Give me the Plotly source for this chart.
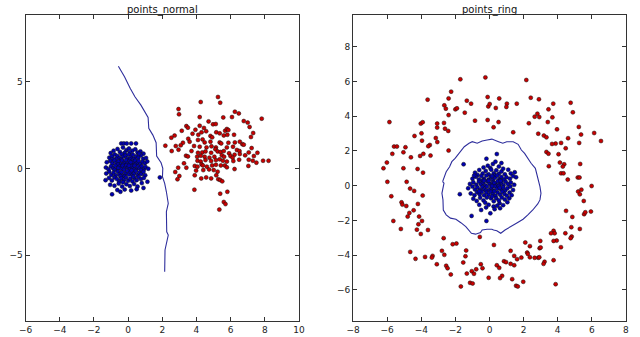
import plotly.graph_objects as go

W, H = 640, 337

# ---------------- points_normal ----------------
normal_blue_x = [-0.40,-0.25,-0.08,0.18,0.46,
 -0.62,-0.85,-0.30,-0.10,0.05,0.25,0.42,0.72,-0.48,0.55,-0.20,0.10,-1.02,0.90,
 -1.10,-0.95,-0.78,-0.62,-0.50,-0.38,-0.28,-0.15,-0.05,0.05,0.18,0.28,0.35,0.48,0.60,0.75,0.88,1.05,-0.70,-0.40,0.12,0.65,-0.88,
 -1.25,-1.05,-0.92,-0.80,-0.68,-0.55,-0.45,-0.35,-0.22,-0.12,-0.02,0.08,0.20,0.30,0.42,0.52,0.62,0.72,0.85,0.98,1.12,-0.60,0.15,-0.30,0.40,
 -1.30,-1.15,-1.00,-0.88,-0.75,-0.65,-0.52,-0.42,-0.32,-0.20,-0.10,0.00,0.10,0.18,0.28,0.38,0.48,0.58,0.68,0.80,0.92,1.02,1.18,-0.58,-0.25,0.05,0.35,-0.80,0.75,
 -1.28,-1.10,-0.98,-0.85,-0.72,-0.60,-0.50,-0.38,-0.28,-0.15,-0.05,0.05,0.15,0.25,0.35,0.45,0.55,0.65,0.78,0.90,1.00,-0.45,0.20,-0.20,
 -1.32,-1.12,-0.95,-0.80,-0.65,-0.52,-0.40,-0.25,-0.12,0.00,0.12,0.25,0.38,0.50,0.62,0.75,0.92,1.13,0.30,-0.30,
 -1.05,-0.80,-0.55,-0.35,-0.10,0.10,0.35,0.55,0.80,0.90,
 -0.94,-0.63,-0.20,0.18,0.50,-0.45,
 1.86]
normal_blue_y = [1.44,1.44,1.44,1.44,1.44,
 1.12,1.02,1.20,1.05,1.15,1.02,1.10,0.98,0.95,0.92,0.90,0.92,0.88,0.85,
 0.62,0.70,0.80,0.72,0.60,0.82,0.68,0.75,0.58,0.80,0.66,0.78,0.55,0.70,0.62,0.75,0.55,0.60,0.55,0.52,0.52,0.85,0.52,
 0.35,0.42,0.28,0.45,0.32,0.40,0.25,0.45,0.32,0.48,0.30,0.42,0.25,0.38,0.45,0.30,0.42,0.25,0.38,0.30,0.40,0.22,0.35,0.22,0.22,
 0.05,-0.05,0.12,0.00,0.15,-0.05,0.10,-0.02,0.15,0.02,0.18,0.05,-0.05,0.12,0.00,0.15,-0.05,0.10,0.00,0.12,-0.05,0.08,-0.02,0.02,-0.08,0.15,-0.08,-0.08,-0.10,
 -0.30,-0.20,-0.38,-0.25,-0.40,-0.18,-0.32,-0.22,-0.42,-0.28,-0.15,-0.35,-0.22,-0.40,-0.28,-0.15,-0.38,-0.25,-0.32,-0.20,-0.40,-0.45,-0.12,-0.45,
 -0.68,-0.55,-0.70,-0.52,-0.62,-0.75,-0.58,-0.68,-0.52,-0.72,-0.60,-0.75,-0.55,-0.68,-0.50,-0.62,-0.55,-0.77,-0.48,-0.80,
 -0.95,-1.00,-0.88,-1.05,-0.92,-1.02,-0.90,-1.05,-0.85,-1.13,
 -1.50,-1.25,-1.22,-1.28,-1.20,-1.35,
 -0.52]

normal_red_x = [5.26,4.25,5.39,2.95,2.98,6.25,6.48,4.19,5.57,6.08,7.82,6.77,7.00,4.97,5.13,4.71,4.19,3.41,3.50,4.44,
 3.94,4.57,7.11,7.32,3.14,2.72,2.53,3.77,4.11,4.30,5.16,5.36,5.68,5.78,5.87,5.60,5.81,6.20,7.19,4.82,
 4.92,4.09,4.36,3.52,3.60,3.21,2.18,2.79,3.08,4.48,4.82,5.36,5.45,5.87,6.25,6.54,6.69,6.77,3.86,4.19,
 4.59,4.88,5.14,5.78,6.14,6.37,6.52,7.23,2.55,2.95,3.71,4.09,4.34,4.53,4.86,5.11,5.24,5.41,5.60,5.91,
 6.23,6.54,6.85,7.06,7.36,7.57,3.39,3.50,4.04,4.25,4.48,4.76,5.05,5.49,5.62,5.99,6.12,6.50,7.06,7.30,
 7.51,7.90,8.22,3.27,4.06,4.25,4.53,4.86,5.14,5.36,5.55,5.78,6.16,3.90,4.06,4.30,4.38,4.61,4.92,5.14,
 5.43,5.66,5.78,6.23,7.04,2.93,3.41,2.76,3.98,4.40,4.74,5.01,5.24,3.90,4.28,4.57,4.86,5.16,3.00,2.89,
 5.28,5.39,5.51,3.88,5.81,5.39,5.60,5.70,5.34]
normal_red_y = [4.12,3.83,3.79,3.42,3.12,3.27,3.17,2.96,2.94,2.96,2.87,2.73,2.64,2.54,2.56,2.71,2.46,2.44,2.35,2.33,
 2.23,2.14,2.39,2.04,2.17,1.89,1.77,2.00,1.94,2.08,2.08,2.02,2.17,2.27,2.21,1.90,1.94,1.94,1.81,1.87,
 1.79,1.64,1.67,1.71,1.54,1.48,1.31,1.29,1.33,1.50,1.54,1.50,1.44,1.48,1.50,1.54,1.39,1.37,1.29,1.25,
 1.21,1.27,1.21,1.21,1.25,1.06,1.00,1.17,1.00,1.08,1.00,0.90,0.92,0.98,0.90,1.10,0.98,0.94,1.00,0.87,
 0.79,0.83,0.75,0.92,0.71,0.90,0.73,0.69,0.67,0.73,0.67,0.62,0.67,0.75,0.67,0.71,0.62,0.50,0.50,0.44,
 0.33,0.44,0.44,0.29,0.44,0.39,0.48,0.42,0.48,0.52,0.44,0.39,0.42,0.14,0.10,0.23,0.17,0.10,0.17,0.21,
 0.17,0.17,0.06,-0.04,0.14,0.04,0.04,-0.21,-0.13,-0.10,-0.06,-0.10,-0.19,-0.40,-0.58,-0.52,-0.58,-0.40,-0.44,-0.63,
 -0.63,-0.67,-0.75,-1.23,-1.35,-1.46,-1.94,-2.06,-2.38]

normal_line_x = [-0.57,-0.21,0.12,0.40,0.75,1.17,1.21,1.45,1.64,1.67,1.93,2.03,2.01,2.14,2.24,2.35,2.24,2.27,2.26,2.35,2.24,2.16,2.14]
normal_line_y = [5.89,5.29,4.62,4.13,3.65,2.94,2.31,1.92,1.48,0.71,0.32,0.00,-0.48,-0.87,-1.35,-2.02,-2.50,-3.08,-3.66,-3.85,-4.33,-4.71,-5.97]

# ---------------- points_ring ----------------
ring_blue_x = [-1.52,0.43,-0.18,-1.74,-0.18,-1.05,-0.49,1.48,1.56,1.16,0.05,0.59,0.24,
 -0.10,0.20,0.55,0.35,-0.35,0.70,0.05,
 -0.85,-0.60,-0.40,-0.22,-0.05,0.10,0.25,0.40,0.55,0.70,0.90,1.10,-0.70,0.32,0.80,1.25,
 -1.00,-0.80,-0.62,-0.48,-0.32,-0.18,-0.05,0.08,0.20,0.32,0.45,0.58,0.70,0.85,1.00,1.20,1.38,-0.40,0.15,0.62,-0.90,
 -1.15,-0.95,-0.78,-0.62,-0.50,-0.38,-0.25,-0.12,0.00,0.12,0.22,0.35,0.48,0.58,0.70,0.82,0.95,1.08,1.25,1.45,-0.05,0.28,0.42,-0.32,0.65,
 -1.25,-1.00,-0.85,-0.70,-0.55,-0.42,-0.30,-0.15,-0.02,0.10,0.22,0.32,0.45,0.55,0.68,0.80,0.92,1.05,1.22,1.38,0.15,-0.20,0.60,
 -1.10,-0.88,-0.72,-0.58,-0.45,-0.32,-0.18,-0.05,0.08,0.20,0.35,0.48,0.62,0.75,0.88,1.02,1.18,1.30,0.28,-0.60,
 -0.95,-0.75,-0.55,-0.35,-0.15,0.09,0.25,0.40,0.55,0.72,0.90,1.05,0.15,-0.25,
 -0.60,-0.20,0.30,0.45,0.62,0.80,-0.05]
ring_blue_y = [1.23,1.82,1.55,-0.49,-2.03,-1.74,-1.40,0.77,0.48,-0.73,-1.59,-1.01,-1.20,
 1.15,1.25,1.10,1.38,1.05,1.30,1.02,
 0.75,0.90,0.70,0.85,0.65,0.92,0.72,0.88,0.68,0.82,0.65,0.92,0.62,0.60,0.98,0.70,
 0.40,0.52,0.35,0.55,0.40,0.58,0.35,0.50,0.32,0.45,0.58,0.38,0.50,0.35,0.48,0.40,0.55,0.30,0.55,0.30,0.58,
 0.10,0.20,0.05,0.22,0.08,0.18,0.02,0.25,0.12,0.02,0.20,0.08,0.25,0.05,0.18,0.02,0.22,0.10,0.18,0.05,0.28,0.15,0.00,0.28,0.28,
 -0.15,-0.05,-0.22,-0.10,-0.25,-0.08,-0.20,-0.05,-0.25,-0.12,-0.28,-0.05,-0.18,-0.02,-0.22,-0.10,-0.28,-0.15,-0.05,-0.25,-0.02,-0.28,-0.12,
 -0.45,-0.55,-0.38,-0.50,-0.35,-0.55,-0.40,-0.52,-0.35,-0.48,-0.58,-0.40,-0.52,-0.35,-0.48,-0.58,-0.40,-0.55,-0.32,-0.32,
 -0.75,-0.88,-0.70,-0.85,-0.68,-0.73,-0.90,-0.72,-0.85,-0.68,-0.80,-0.95,-0.62,-0.98,
 -1.10,-1.25,-1.35,-1.15,-1.30,-1.12,-1.10]

ring_red_x = [-1.71,-0.24,-2.25,-3.63,-2.40,-1.33,-1.08,-0.11,-2.65,-2.56,-2.00,-1.91,-0.07,0.01,-2.40,-1.45,
 -5.87,-4.03,-3.92,-3.07,-2.67,-0.85,-0.11,-3.07,-2.61,-2.42,-4.40,-3.99,-3.15,-3.06,-3.96,-3.50,-3.59,
 -5.60,-5.43,-4.93,-2.40,-5.70,-5.05,-3.88,-4.07,-3.46,-4.61,-6.02,-6.22,-5.05,-4.22,-3.90,-5.99,-4.86,
 -4.66,-4.42,-5.76,-3.92,-5.16,-5.11,-4.88,-4.20,-4.45,-4.70,-4.80,-4.13,-5.64,-3.96,-4.17,-5.20,-4.26,
 -3.61,-4.03,-2.69,-2.16,-1.94,-4.65,-1.37,-2.79,-2.65,-3.34,-3.38,-4.34,-3.78,-1.41,-1.54,-3.09,-2.54,
 -2.46,-0.51,-0.41,-0.78,-1.04,-0.91,-1.33,-2.27,-0.05,-1.68,-1.14,-0.99,-0.57,
 2.16,0.57,2.42,2.90,1.02,0.99,1.60,0.37,4.76,3.74,3.46,4.89,2.81,2.65,2.92,3.69,2.31,3.42,0.53,0.24,
 1.39,3.96,5.24,2.86,3.19,3.34,5.37,6.14,6.54,4.61,4.20,3.88,3.67,5.26,4.47,3.34,3.46,4.05,4.13,4.38,
 4.30,3.48,5.32,4.20,4.34,5.18,5.28,4.59,
 5.99,5.20,5.39,5.30,5.53,4.49,4.86,5.55,5.62,5.95,5.30,4.80,4.45,3.76,3.82,3.61,4.82,4.76,3.94,3.76,
 2.98,4.19,2.10,2.37,2.94,3.00,0.26,1.24,2.21,2.25,1.45,1.62,1.87,2.37,2.65,2.86,2.92,3.76,3.23,3.17,
 0.85,0.97,1.24,1.45,0.43,0.57,0.74,0.62,1.33,1.98,1.56,1.66,3.88]
ring_red_y = [6.12,6.23,5.41,4.95,5.02,4.89,4.72,5.10,4.62,4.43,4.39,4.45,4.56,4.70,4.06,4.20,
 3.66,3.57,3.65,3.57,3.61,3.74,3.78,3.34,3.28,3.15,2.86,3.01,2.74,2.51,2.59,2.34,2.27,
 2.25,2.25,2.21,2.02,1.83,1.92,1.83,1.71,1.73,1.63,1.33,1.00,1.00,0.96,0.75,0.22,0.22,
 -0.17,-0.30,-0.61,-0.57,-0.96,-1.09,-1.17,-1.05,-1.42,-1.57,-1.78,-1.78,-2.03,-2.03,-2.22,-2.49,-2.53,
 -2.55,-2.78,-3.02,-3.37,-3.33,-3.81,-3.73,-3.75,-3.98,-4.04,-4.14,-4.21,-4.10,-4.06,-4.42,-4.52,-4.61,
 -4.75,-4.52,-4.75,-4.81,-4.92,-5.07,-5.06,-5.11,-5.30,-5.80,-5.59,-5.63,-2.95,
 6.08,5.02,5.06,4.97,4.72,4.53,4.72,4.47,4.77,4.72,4.39,4.22,4.14,3.97,3.95,3.93,3.59,3.66,3.66,3.36,
 3.07,3.24,3.38,2.99,2.88,2.78,2.94,3.03,2.57,2.73,2.46,2.42,2.40,2.46,2.15,1.94,1.84,1.81,1.33,1.23,
 1.10,1.12,1.25,0.71,0.71,0.47,0.47,0.35,
 -0.02,-0.34,-0.23,-0.50,-0.88,-1.45,-1.80,-1.64,-1.53,-1.49,-2.49,-2.39,-2.74,-2.60,-2.74,-2.74,-2.93,-3.02,-3.16,-3.18,
 -3.18,-3.54,-3.27,-3.48,-3.60,-3.56,-3.41,-3.75,-3.85,-3.93,-4.04,-4.23,-4.14,-4.12,-4.15,-4.15,-4.12,-4.29,-4.38,-4.50,
 -4.35,-4.40,-4.50,-4.58,-4.58,-4.73,-5.19,-5.32,-5.38,-5.53,-5.76,-5.80,-5.67]

ring_line_x = [-2.75,-2.54,-2.34,-2.21,-2.02,-1.68,-1.48,-1.20,-1.01,-0.72,-0.43,-0.14,0.14,0.53,0.78,1.01,1.39,1.68,1.87,2.06,
 2.25,2.44,2.69,2.77,2.83,2.96,3.02,2.96,2.83,2.54,2.25,1.97,1.58,1.20,0.91,0.66,0.43,0.24,0.14,-0.14,
 -0.43,-0.53,-0.82,-1.06,-1.20,-1.39,-1.68,-1.97,-2.29,-2.54,-2.71,-2.73,-2.79,-2.73,-2.67,-2.75]
ring_line_y = [0.23,0.80,1.09,1.38,1.57,1.99,2.24,2.44,2.53,2.44,2.57,2.63,2.68,2.53,2.44,2.53,2.53,2.38,2.05,1.86,
 1.57,1.29,1.00,0.71,0.43,-0.06,-0.44,-0.82,-1.05,-1.40,-1.68,-1.93,-2.16,-2.36,-2.55,-2.74,-2.59,-2.55,-2.51,-2.51,
 -2.55,-2.70,-2.79,-2.74,-2.55,-2.36,-2.13,-1.93,-1.87,-1.68,-1.40,-0.82,-0.44,-0.15,0.14,0.23]

titles = ["points_normal", "points_ring"]
left_xticks = [-6, -4, -2, 0, 2, 4, 6, 8, 10]
left_yticks = [-5, 0, 5]
right_xticks = [-8, -6, -4, -2, 0, 2, 4, 6, 8]
right_yticks = [-6, -4, -2, 0, 2, 4, 6, 8]

BLUE = "#0000b0"
RED = "#c80000"
LINE = "#2e2e9c"
FONT = "DejaVu Sans"

fig = go.Figure()

def add_panel(xa, ya, bx, by, rx, ry, lx, ly):
    fig.add_trace(go.Scatter(x=lx, y=ly, mode="lines", xaxis=xa, yaxis=ya,
                             line=dict(color=LINE, width=1.1), hoverinfo="skip"))
    fig.add_trace(go.Scatter(x=bx, y=by, mode="markers", xaxis=xa, yaxis=ya,
                             marker=dict(color=BLUE, size=4, line=dict(color="#111111", width=0.5))))
    fig.add_trace(go.Scatter(x=rx, y=ry, mode="markers", xaxis=xa, yaxis=ya,
                             marker=dict(color=RED, size=4, line=dict(color="#111111", width=0.5))))

add_panel("x", "y", normal_blue_x, normal_blue_y, normal_red_x, normal_red_y, normal_line_x, normal_line_y)
add_panel("x2", "y2", ring_blue_x, ring_blue_y, ring_red_x, ring_red_y, ring_line_x, ring_line_y)

def px(v):
    return v / W

def py(v):
    return 1 - v / H

axis_common = dict(showgrid=False, zeroline=False, showline=True, linecolor="#333333", linewidth=1,
                   mirror="ticks", ticks="inside", ticklen=4, tickcolor="#333333",
                   tickfont=dict(family=FONT, size=9, color="#222222"))

fig.update_layout(
    width=W, height=H,
    margin=dict(l=0, r=0, t=0, b=0),
    paper_bgcolor="white", plot_bgcolor="white",
    showlegend=False,
    xaxis=dict(domain=[px(19), px(298)], range=[-6, 10], tickvals=left_xticks, anchor="y", **axis_common),
    yaxis=dict(domain=[py(320.7), py(15)], range=[-8.79, 8.85], tickvals=left_yticks, anchor="x", **axis_common),
    xaxis2=dict(domain=[px(353.3), px(631.7)], range=[-8, 8], tickvals=right_xticks, anchor="y2", **axis_common),
    yaxis2=dict(domain=[py(320.7), py(15)], range=[-7.77, 9.82], tickvals=right_yticks, anchor="x2", **axis_common),
    annotations=[
        dict(text=titles[0], x=px(158.5), y=py(9.5), xref="paper", yref="paper", showarrow=False,
             xanchor="center", yanchor="middle", font=dict(family=FONT, size=10, color="#111111")),
        dict(text=titles[1], x=px(492.5), y=py(9.5), xref="paper", yref="paper", showarrow=False,
             xanchor="center", yanchor="middle", font=dict(family=FONT, size=10, color="#111111")),
    ],
)

fig.write_html("out.html")
